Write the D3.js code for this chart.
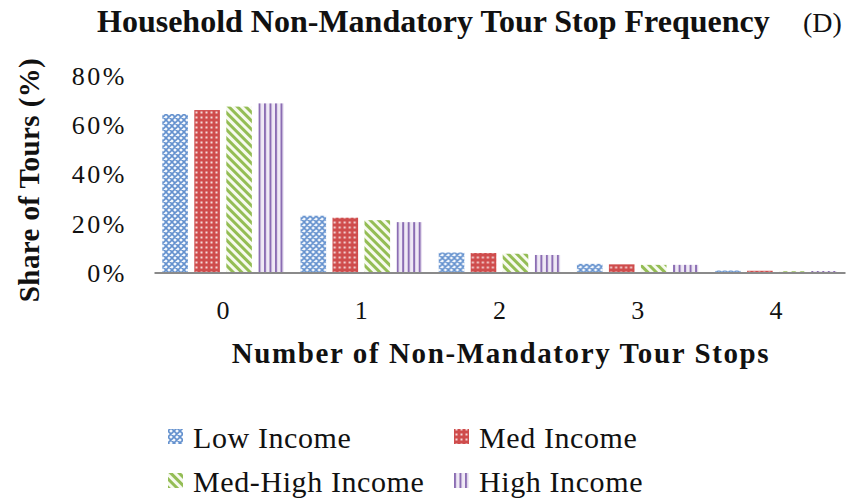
<!DOCTYPE html>
<html>
<head>
<meta charset="utf-8">
<script src="https://cdn.jsdelivr.net/npm/d3@7"></script>
<style>
  body { margin: 0; background: #fff; }
  svg text { font-family: "Liberation Serif", "DejaVu Serif", serif !important; fill: #111; }
</style>
</head>
<body>
<svg width="846" height="502"></svg>
<script>
// data
var stops = ["0", "1", "2", "3", "4"];
var seriesNames = ["Low Income", "Med Income", "Med-High Income", "High Income"];
var lowIncome = [64.2, 23.0, 8.1, 3.5, 0.8];
var medIncome = [65.8, 22.2, 7.9, 3.3, 0.7];
var medHighIncome = [67.2, 21.2, 7.6, 3.1, 0.5];
var highIncome = [68.5, 20.4, 7.1, 3.1, 0.6];
var yTicks = [0, 20, 40, 60, 80];

var seriesValues = [lowIncome, medIncome, medHighIncome, highIncome];

var svg = d3.select("svg");
var defs = svg.append("defs");

// fill patterns, one per series
var pLow = defs.append("pattern").attr("id", "pat0")
    .attr("patternUnits", "userSpaceOnUse").attr("width", 6).attr("height", 6);
pLow.append("rect").attr("width", 6).attr("height", 6).attr("fill", "#f4f8fd");
pLow.append("path").attr("d", "M0,0L6,6M6,0L0,6M-1,5L1,7M5,-1L7,1M-1,1L1,-1M5,7L7,5")
    .attr("stroke", "#6491ce").attr("stroke-width", 1.6);

var pMed = defs.append("pattern").attr("id", "pat1")
    .attr("patternUnits", "userSpaceOnUse").attr("width", 5).attr("height", 5);
pMed.append("rect").attr("width", 5).attr("height", 5).attr("fill", "#cf4c4c");
pMed.append("rect").attr("x", 1.5).attr("y", 1.5).attr("width", 2).attr("height", 2).attr("fill", "#f6dada");

var pMH = defs.append("pattern").attr("id", "pat2")
    .attr("patternUnits", "userSpaceOnUse").attr("width", 6).attr("height", 6)
    .attr("patternTransform", "rotate(-45)");
pMH.append("rect").attr("width", 6).attr("height", 6).attr("fill", "#f7faef");
pMH.append("rect").attr("width", 3).attr("height", 6).attr("fill", "#94bd55");

var pHigh = defs.append("pattern").attr("id", "pat3")
    .attr("patternUnits", "userSpaceOnUse").attr("width", 5.5).attr("height", 6);
pHigh.append("rect").attr("width", 5.5).attr("height", 6).attr("fill", "#efe9f5");
pHigh.append("rect").attr("width", 2).attr("height", 6).attr("fill", "#8b6db3");

var x = d3.scaleBand()
    .domain(stops)
    .range([154, 845])
    .padding(0);

var xInner = d3.scaleBand()
    .domain(d3.range(seriesNames.length))
    .range([0, x.bandwidth()])
    .paddingInner(0.2)
    .paddingOuter(0.26);

var y = d3.scaleLinear()
    .domain([0, 80])
    .range([272.5, 75]);

// bars
var groups = svg.selectAll(".grp")
    .data(stops)
    .enter().append("g")
    .attr("class", "grp")
    .attr("transform", function(d) { return "translate(" + x(d) + ",0)"; });

groups.selectAll("rect")
    .data(function(d, i) {
      return seriesValues.map(function(vals, s) { return {s: s, v: vals[i]}; });
    })
    .enter().append("rect")
    .attr("x", function(d) { return xInner(d.s); })
    .attr("width", xInner.bandwidth())
    .attr("y", function(d) { return y(d.v); })
    .attr("height", function(d) { return y(0) - y(d.v); })
    .attr("fill", function(d) { return "url(#pat" + d.s + ")"; });

// y axis labels (no axis line in the reference)
var yAxis = d3.axisLeft(y)
    .tickValues(yTicks)
    .tickSize(0)
    .tickPadding(0)
    .tickFormat(function(d) { return d + "%"; });

var yg = svg.append("g")
    .attr("transform", "translate(127,0)")
    .call(yAxis);
yg.select(".domain").remove();
yg.selectAll("text")
    .attr("font-size", 26)
    .attr("letter-spacing", 2.5)
    .attr("dy", "0.35em")
    .attr("fill", "#111");

// x axis
var xAxis = d3.axisBottom(x).tickSize(0).tickPadding(0);
var xg = svg.append("g")
    .attr("transform", "translate(0," + y(0) + ")")
    .call(xAxis);
xg.select(".domain").attr("stroke", "#8a8a8a").attr("stroke-width", 2);
xg.selectAll("text")
    .attr("font-size", 26)
    .attr("y", 46)
    .attr("dy", 0)
    .attr("fill", "#111");

// titles
svg.append("text")
    .attr("x", 97).attr("y", 32)
    .attr("font-size", 32)
    .attr("font-weight", "bold")
    .text("Household Non-Mandatory Tour Stop Frequency");

svg.append("text")
    .attr("x", 803).attr("y", 32)
    .attr("font-size", 28)
    .text("(D)");

svg.append("text")
    .attr("transform", "translate(39,180) rotate(-90)")
    .attr("text-anchor", "middle")
    .attr("font-size", 29)
    .attr("font-weight", "bold")
    .attr("letter-spacing", 0.4)
    .text("Share of  Tours (%)");

svg.append("text")
    .attr("x", 501).attr("y", 363)
    .attr("text-anchor", "middle")
    .attr("font-size", 29)
    .attr("font-weight", "bold")
    .attr("letter-spacing", 1.6)
    .text("Number of  Non-Mandatory Tour Stops");

// legend
var legendPos = [[168, 437], [454, 437], [168, 481], [454, 481]];
var legend = svg.selectAll(".leg")
    .data(seriesNames)
    .enter().append("g")
    .attr("class", "leg")
    .attr("transform", function(d, i) { return "translate(" + legendPos[i][0] + "," + legendPos[i][1] + ")"; });

legend.append("rect")
    .attr("x", 0).attr("y", -8)
    .attr("width", 15).attr("height", 15)
    .attr("fill", function(d, i) { return "url(#pat" + i + ")"; });

legend.append("text")
    .attr("x", 25).attr("y", 0)
    .attr("dy", "0.35em")
    .attr("font-size", 30)
    .attr("letter-spacing", 0.6)
    .text(function(d) { return d; });
</script>
</body>
</html>
